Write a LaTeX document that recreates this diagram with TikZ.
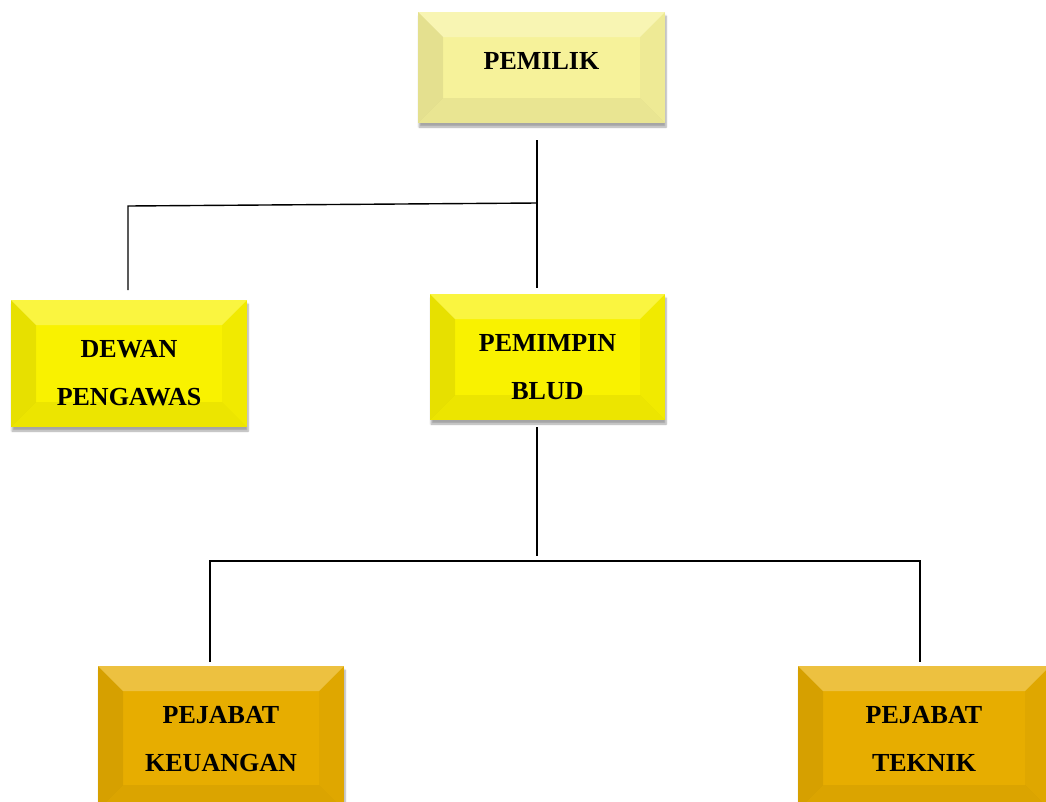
\documentclass[tikz,border=0pt]{standalone}
\usepackage{fontspec}
\setmainfont{Liberation Serif}
\usepackage{tikz}
\usetikzlibrary{shadows,shadows.blur}
\usetikzlibrary{calc}
\definecolor{palegold}{HTML}{F6F29A}
\definecolor{brightyel}{HTML}{F9F200}
\definecolor{darkgold}{HTML}{E7AD00}
\newcommand{\lift}[2]{\raisebox{\dimexpr #1-6.5pt\relax}[0pt][0pt]{\begin{tabular}{@{}c@{}}#2\end{tabular}}}
\tikzstyle{bevel}=[path picture={
  \fill[white,opacity=0.25] (path picture bounding box.north west) -- (path picture bounding box.north east)
    -- ([shift={(-25pt,-25pt)}]path picture bounding box.north east) -- ([shift={(25pt,-25pt)}]path picture bounding box.north west) -- cycle;
  \fill[black,opacity=0.07] (path picture bounding box.north west) -- ([shift={(25pt,-25pt)}]path picture bounding box.north west)
    -- ([shift={(25pt,25pt)}]path picture bounding box.south west) -- (path picture bounding box.south west) -- cycle;
  \fill[black,opacity=0.03] (path picture bounding box.north east) -- ([shift={(-25pt,-25pt)}]path picture bounding box.north east)
    -- ([shift={(-25pt,25pt)}]path picture bounding box.south east) -- (path picture bounding box.south east) -- cycle;
  \fill[black,opacity=0.05] (path picture bounding box.south west) -- ([shift={(25pt,25pt)}]path picture bounding box.south west)
    -- ([shift={(-25pt,25pt)}]path picture bounding box.south east) -- (path picture bounding box.south east) -- cycle;
}]
\tikzstyle{unit}=[bevel, rectangle, inner sep=0pt, text=black,
  font=\fontsize{26}{48}\selectfont\bfseries,
  blur shadow={shadow blur steps=6, shadow xshift=1pt, shadow yshift=-4pt, shadow opacity=35}]
\tikzstyle{link}=[line width=1.4pt, black]

\begin{document}
\begin{tikzpicture}[x=1pt,y=-1pt]
\useasboundingbox (0,0) rectangle (1046,801);
\clip (0,0) rectangle (1046,801);
\node[unit, fill=palegold, minimum width=247pt, minimum height=111pt] (pemilik) at (541.5,67.5) {\lift{8pt}{PEMILIK}};
\node[unit, fill=brightyel, minimum width=236pt, minimum height=127pt] (dewan) at (129,363.5) {\lift{-8.5pt}{DEWAN\\PENGAWAS}};
\node[unit, fill=brightyel, minimum width=235pt, minimum height=126pt] (pemimpin) at (547.5,357) {\lift{-8.5pt}{PEMIMPIN\\BLUD}};
\node[unit, fill=darkgold, minimum width=246pt, minimum height=144pt] (keuangan) at (221,738) {\lift{0pt}{PEJABAT\\KEUANGAN}};
\node[unit, fill=darkgold, minimum width=252pt, minimum height=144pt] (teknik) at (924,738) {\lift{0pt}{PEJABAT\\TEKNIK}};
\coordinate (a1) at (537,140);
\coordinate (j1) at (537,203);
\coordinate (a2) at (537,288);
\coordinate (d1) at (128,206);
\coordinate (d2) at (128,290);
\coordinate (b1) at (537,427);
\coordinate (j2) at (537,556);
\coordinate (k1) at (210,561);
\coordinate (k2) at (210,662);
\coordinate (t1) at (920,561);
\coordinate (t2) at (920,662);
\draw[link] (a1) -- (j1) -- (a2);
\draw[link] (j1) -- (d1) -- (d2);
\draw[link] (b1) -- (j2);
\draw[link] (k2) -- (k1) -- (t1) -- (t2);
\end{tikzpicture}
\end{document}
